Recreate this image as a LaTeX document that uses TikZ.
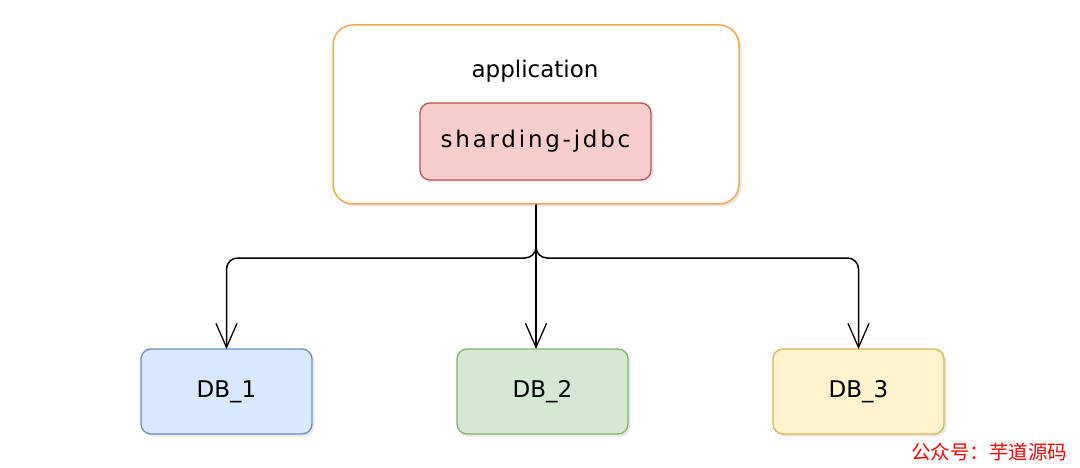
\documentclass[tikz,border=0pt]{standalone}
\usepackage{fontspec}
\setmainfont{DejaVu Sans}
\newfontfamily\spaced[LetterSpace=12]{DejaVu Sans}
\newfontfamily\cjk{Noto Sans CJK SC}
\usetikzlibrary{arrows.meta,shadows,calc}
\definecolor{apporange}{HTML}{F5A94F}
\definecolor{redfill}{HTML}{F8CECC}
\definecolor{redline}{HTML}{B85450}
\definecolor{bluefill}{HTML}{DAE8FC}
\definecolor{blueline}{HTML}{6C8EBF}
\definecolor{greenfill}{HTML}{D5E8D4}
\definecolor{greenline}{HTML}{82B366}
\definecolor{yellowfill}{HTML}{FFF2CC}
\definecolor{yellowline}{HTML}{D6B656}
\tikzset{
  myshadow/.style={drop shadow={opacity=0.18,shadow xshift=2.5pt,shadow yshift=-2.5pt}},
  appbox/.style={draw=apporange,fill=white,line width=1.5pt,rounded corners=20pt,
     minimum width=406pt,minimum height=179pt,inner sep=0pt,myshadow},
  sjbox/.style={draw=redline,fill=redfill,line width=1.3pt,rounded corners=10pt,
     minimum width=231pt,minimum height=77pt,inner sep=0pt,myshadow,font=\spaced\fontsize{23}{27}\selectfont},
  dbbox/.style={line width=1.3pt,rounded corners=10pt,
     minimum width=171pt,minimum height=85pt,inner sep=0pt,myshadow,font=\fontsize{23}{27}\selectfont},
  conn/.style={draw=black,line width=1.5pt,rounded corners=11pt,
     -{Straight Barb[length=24pt,width=21pt,line width=1.3pt]}},
  lbl/.style={inner sep=0pt,font=\fontsize{23}{27}\selectfont},
  wmark/.style={inner sep=0pt,text=red,font=\cjk\fontsize{19.5}{23}\selectfont}
}
\begin{document}
\begin{tikzpicture}[x=1pt,y=-1pt]
\useasboundingbox (0,0) rectangle (1080,468);
\node[appbox] (app) at (536,114.5) {};
\node[lbl,anchor=base] (applbl) at (535,78) {application};
\node[sjbox] (sj) at (535.5,141.5) {sharding-jdbc};
\node[dbbox,draw=blueline,fill=bluefill] (db1) at (226.5,391.5) {DB\_1};
\node[dbbox,draw=greenline,fill=greenfill] (db2) at (542.5,391.5) {DB\_2};
\node[dbbox,draw=yellowline,fill=yellowfill] (db3) at (858.5,391.5) {DB\_3};
\coordinate (j) at (536,258);
\coordinate (d1) at (226.5,349);
\coordinate (d2) at (536,349);
\coordinate (d3) at (858.5,349);
\draw[conn] (app.south) -- (j) -| (d1);
\draw[conn] (app.south) -- (d2);
\draw[conn] (app.south) -- (j) -| (d3);
\node[wmark] (wm) at (989,452) {公众号：芋道源码};
\end{tikzpicture}
\end{document}
